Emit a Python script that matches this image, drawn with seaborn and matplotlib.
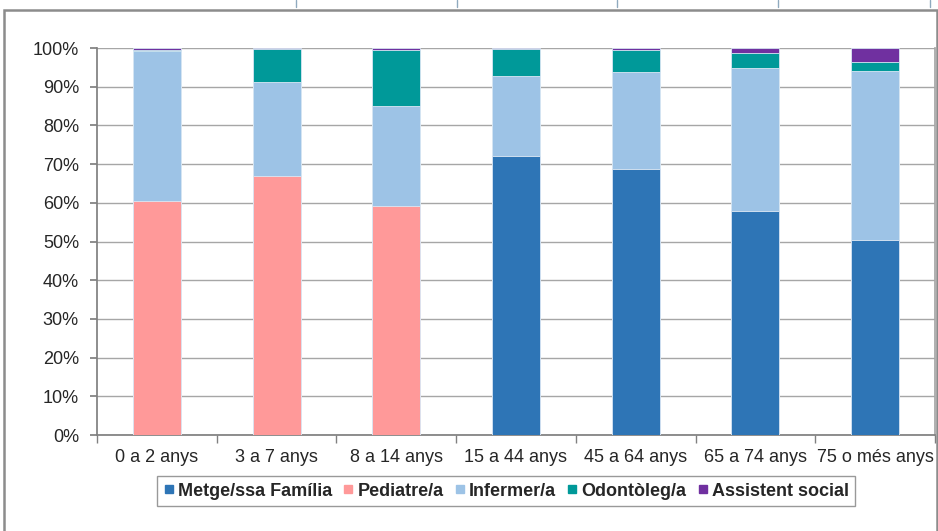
import matplotlib
matplotlib.use("Agg")
import matplotlib.pyplot as plt
from matplotlib.lines import Line2D
from matplotlib.patches import Rectangle
from matplotlib.ticker import FuncFormatter, FixedLocator
import seaborn as sns
import pandas as pd
import numpy as np

categories = ["0 a 2 anys", "3 a 7 anys", "8 a 14 anys", "15 a 44 anys",
              "45 a 64 anys", "65 a 74 anys", "75 o més anys"]
series_names = ["Metge/ssa Família", "Pediatre/a", "Infermer/a", "Odontòleg/a", "Assistent social"]
metge = [0.0, 0.0, 0.0, 72.1, 68.7, 57.9, 50.5]
pediatre = [60.5, 66.9, 59.3, 0.0, 0.0, 0.0, 0.0]
infermer = [38.8, 24.4, 25.7, 20.7, 25.0, 37.0, 43.5]
odontoleg = [0.3, 8.4, 14.6, 6.9, 5.8, 3.8, 2.5]
assistent = [0.4, 0.3, 0.4, 0.3, 0.5, 1.3, 3.5]
colors = ["#2E75B6", "#FF9999", "#9DC3E6", "#009999", "#7030A0"]
yticks = [0, 10, 20, 30, 40, 50, 60, 70, 80, 90, 100]

sns.set_theme(style="white")
plt.rcParams["font.family"] = ["Liberation Sans", "DejaVu Sans"]

fig = plt.figure(figsize=(9.38, 5.31), dpi=100)
ax = fig.add_axes([97/938, 1-435/531, (935-97)/938, (435-48)/531])

series = [metge, pediatre, infermer, odontoleg, assistent]
cum = np.cumsum(np.array(series), axis=0)
df = pd.DataFrame({"cat": np.repeat([categories], len(series), axis=0).ravel(),
                   "serie": np.repeat(series_names, len(categories)),
                   "cum": cum.ravel()})

for i in range(len(series) - 1, -1, -1):
    sub = df[df["serie"] == series_names[i]]
    sns.barplot(data=sub, x="cat", y="cum", order=categories, color=colors[i],
                width=0.4, edgecolor="#dbe8f5", linewidth=0.6, saturation=1,
                ax=ax, zorder=3)

ax.set_ylim(0, 100)
ax.set_xlim(-0.5, len(categories) - 0.5)
ax.set_yticks(yticks)
ax.yaxis.set_major_formatter(FuncFormatter(lambda v, p: f"{int(v)}%"))
ax.set_xlabel("")
ax.set_ylabel("")
ax.grid(axis="y", color="#a6a6a6", linewidth=1, zorder=0)
ax.grid(axis="x", visible=False)
ax.set_axisbelow(True)
for s in ["top"]:
    ax.spines[s].set_visible(False)
ax.spines["right"].set_color("#a6a6a6")
ax.spines["left"].set_color("#808080")
ax.spines["bottom"].set_color("#808080")
ax.tick_params(axis="y", which="major", length=5, color="#808080", labelsize=13,
               pad=8, left=True, direction="out")
ax.tick_params(axis="x", which="major", length=0, labelsize=13, pad=10)
ax.xaxis.set_minor_locator(FixedLocator(np.arange(-0.5, len(categories), 1.0)))
ax.tick_params(axis="x", which="minor", length=6, color="#808080", bottom=True, direction="out")

handles = [Line2D([], [], marker="s", linestyle="none", markersize=6,
                  markerfacecolor=c, markeredgecolor=c) for c in colors]
leg = fig.legend(handles, series_names, loc="center", bbox_to_anchor=(506/938, 1-491/531),
                 ncol=5, frameon=True, fancybox=False, edgecolor="#808080",
                 prop={"size": 13, "weight": "bold"}, handlelength=0.6,
                 handletextpad=0.2, columnspacing=0.6, borderpad=0.35)
leg.get_frame().set_linewidth(1)

# outer frame of the embedded chart
fig.patches.append(Rectangle((4/938, -0.05), (937-4)/938, 1-10/531+0.05,
                             transform=fig.transFigure, fill=False,
                             edgecolor="#8c8c8c", linewidth=1.8))
# fragment of the table above
for xv in [296, 457, 617, 778, 930]:
    fig.add_artist(Line2D([xv/938, xv/938], [1-7/531, 1], transform=fig.transFigure,
                          color="#8faabf", linewidth=1))

fig.savefig("out.png", dpi=100)
